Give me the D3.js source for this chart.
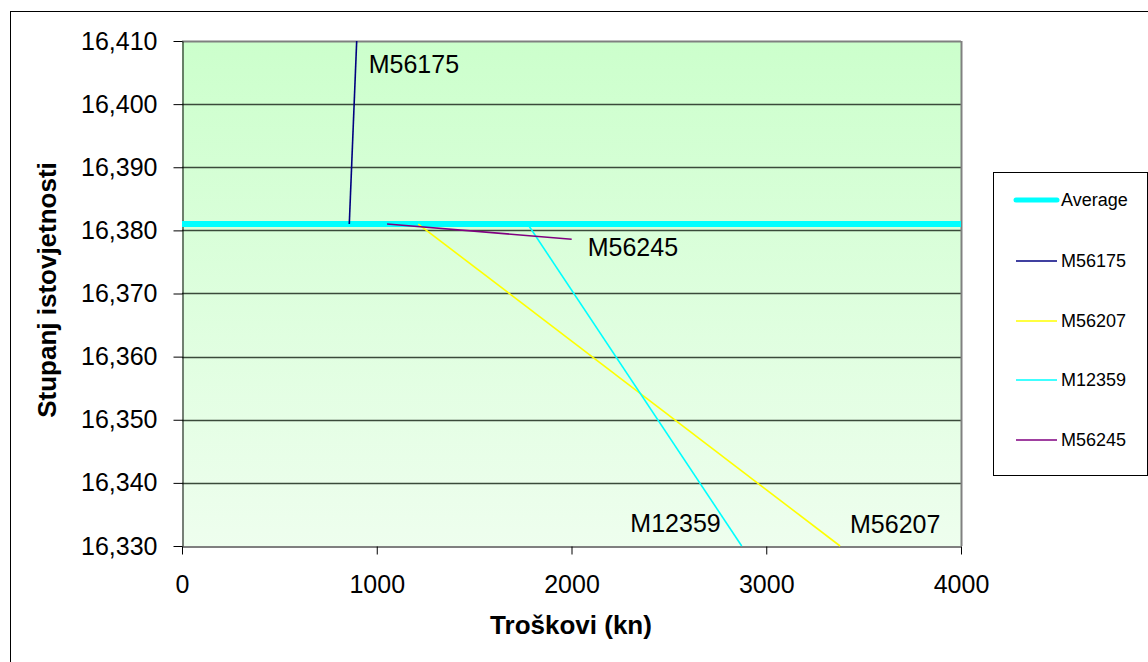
<!DOCTYPE html>
<html><head><meta charset="utf-8">
<script src="https://cdn.jsdelivr.net/npm/d3@7"></script>
<style>html,body{margin:0;padding:0;background:#fff;}svg{display:block;font-family:"Liberation Sans",Arial,sans-serif;}</style>
</head><body>
<svg id="c" width="1148" height="662"></svg>
<script>
// ---- data ----
const seriesNames = ["Average", "M56175", "M56207", "M12359", "M56245"];
const seriesColors = ["#00ffff", "#000080", "#ffff00", "#00ffff", "#800080"];
const averageX = [0, 4000];
const averageY = [16.3810, 16.3810];
const m56175X = [859, 897];
const m56175Y = [16.3810, 16.4100];
const m56207X = [1213, 3379];
const m56207Y = [16.3810, 16.3300];
const m12359X = [1775, 2874];
const m12359Y = [16.3810, 16.3300];
const m56245X = [1053, 2001];
const m56245Y = [16.3810, 16.3786];
const xTicks = [0, 1000, 2000, 3000, 4000];
const yTicks = [16.33, 16.34, 16.35, 16.36, 16.37, 16.38, 16.39, 16.40, 16.41];
const xTitle = "Troškovi (kn)";
const yTitle = "Stupanj istovjetnosti";

// ---- layout ----
const svg = d3.select("#c");
const L = 182, T = 41, W = 779, H = 505;
const x = d3.scaleLinear().domain([0, 4000]).range([L, L + W]);
const y = d3.scaleLinear().domain([16.33, 16.41]).range([T + H, T]);
const loc = d3.formatLocale({decimal: ",", thousands: ".", grouping: [3], currency: ["", ""]});
const fy = loc.format(".3f");

// outer chart border
svg.append("rect").attr("x", 10.5).attr("y", 11.5).attr("width", 1150).attr("height", 660)
  .attr("fill", "#fff").attr("stroke", "#000").attr("stroke-width", 1);

// plot background gradient
const defs = svg.append("defs");
const g = defs.append("linearGradient").attr("id", "bg").attr("x1", 0).attr("y1", 0).attr("x2", 0).attr("y2", 1);
g.append("stop").attr("offset", "0%").attr("stop-color", "#ccffcc");
g.append("stop").attr("offset", "100%").attr("stop-color", "#eefeee");
svg.append("rect").attr("x", L).attr("y", T).attr("width", W).attr("height", H).attr("fill", "url(#bg)");
defs.append("clipPath").attr("id", "clip").append("rect").attr("x", L).attr("y", T - 1).attr("width", W + 2).attr("height", H + 2);

// gridlines
svg.append("g").selectAll("line").data(yTicks.slice(1)).join("line")
  .attr("x1", L).attr("x2", L + W)
  .attr("y1", d => Math.round(y(d)) + 0.5).attr("y2", d => Math.round(y(d)) + 0.5)
  .attr("stroke", d => d === 16.41 ? "#808080" : "#3a4a3a").attr("stroke-width", d => d === 16.41 ? 2 : 1.3);
// right border
svg.append("line").attr("x1", L + W + 0.5).attr("x2", L + W + 0.5).attr("y1", T).attr("y2", T + H)
  .attr("stroke", "#808080").attr("stroke-width", 2);

// axes
const yAxis = d3.axisLeft(y).tickValues(yTicks).tickFormat(fy).tickSizeOuter(0).tickSizeInner(9).tickPadding(16);
const xAxis = d3.axisBottom(x).tickValues(xTicks).tickFormat(d3.format("d")).tickSizeOuter(0).tickSizeInner(8).tickPadding(21);
const ya = svg.append("g").attr("transform", `translate(${L + 0.5},0)`).call(yAxis);
const xa = svg.append("g").attr("transform", `translate(0,${T + H + 0.5})`).call(xAxis);
[ya, xa].forEach(a => {
  a.select(".domain").attr("stroke", "#000");
  a.selectAll(".tick line").attr("stroke", "#000");
  a.selectAll("text").attr("font-size", 25).attr("fill", "#000").attr("font-family", '"Liberation Sans",Arial,sans-serif');
});

// titles
svg.append("text").attr("x", 571).attr("y", 634).attr("text-anchor", "middle")
  .attr("font-size", 26).attr("font-weight", "bold").text(xTitle);
svg.append("text").attr("transform", "translate(56,290) rotate(-90)").attr("text-anchor", "middle")
  .attr("font-size", 26).attr("font-weight", "bold").text(yTitle);

// series
const series = [
  {name: seriesNames[0], color: seriesColors[0], xs: averageX, ys: averageY, w: 6},
  {name: seriesNames[1], color: seriesColors[1], xs: m56175X, ys: m56175Y, w: 1.6},
  {name: seriesNames[2], color: seriesColors[2], xs: m56207X, ys: m56207Y, w: 1.6},
  {name: seriesNames[3], color: seriesColors[3], xs: m12359X, ys: m12359Y, w: 1.6},
  {name: seriesNames[4], color: seriesColors[4], xs: m56245X, ys: m56245Y, w: 1.6}
];
const line = d3.line().x(d => x(d[0])).y(d => y(d[1]));
const lg = svg.append("g").attr("clip-path", "url(#clip)");
series.forEach(s => {
  lg.append("path").datum(s.xs.map((v, i) => [v, s.ys[i]]))
    .attr("d", line).attr("fill", "none").attr("stroke", s.color).attr("stroke-width", s.w);
});

// data labels (attached to series end points)
const labelOffsets = {
  "M56175": {dx: 12, dy: 32, anchor: "start"},
  "M56245": {dx: 16, dy: 17, anchor: "start"},
  "M12359": {dx: -21, dy: -14, anchor: "end"},
  "M56207": {dx: 10, dy: -13, anchor: "start"}
};
series.slice(1).forEach(s => {
  const o = labelOffsets[s.name];
  const px = x(s.xs[1]), py = y(s.ys[1]);
  svg.append("text").attr("x", px + o.dx).attr("y", py + o.dy).attr("text-anchor", o.anchor)
    .attr("font-size", 25).attr("fill", "#000").text(s.name);
});

// legend
const legX = 993, legY = 172;
svg.append("rect").attr("x", legX + 0.5).attr("y", legY + 0.5).attr("width", 154).attr("height", 303)
  .attr("fill", "#fff").attr("stroke", "#000").attr("stroke-width", 1);
const legRows = [200, 261, 321, 380, 440];
series.forEach((s, i) => {
  const yy = legRows[i];
  svg.append("line").attr("x1", 1016).attr("x2", 1057).attr("y1", yy).attr("y2", yy)
    .attr("stroke", s.color).attr("stroke-width", i === 0 ? 5 : 1.6).attr("stroke-linecap", i === 0 ? "round" : "butt");
  svg.append("text").attr("x", 1061).attr("y", yy).attr("dy", "0.35em").attr("font-size", 18).text(s.name);
});
</script>
</body></html>
